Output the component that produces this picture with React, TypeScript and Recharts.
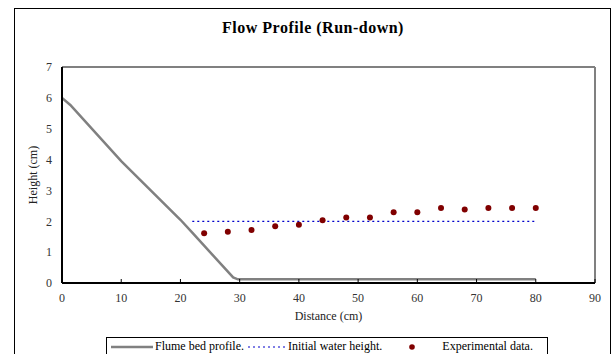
import React from 'react'
import {
  ComposedChart,
  Line,
  Scatter,
  XAxis,
  YAxis,
  ReferenceLine,
} from 'recharts'

// flume bed profile (distance cm, height cm)
const bedX = [0, 1.4, 10, 20, 22, 28.9, 29.7, 80]
const bedH = [6, 5.77, 3.95, 2.05, 1.63, 0.18, 0.12, 0.12]

// initial still-water level
const waterX = [22, 80]
const waterH = [2, 2]

// measured run-down heights
const expX = [24, 28, 32, 36, 40, 44, 48, 52, 56, 60, 64, 68, 72, 76, 80]
const expH = [1.61, 1.66, 1.72, 1.84, 1.89, 2.03, 2.12, 2.12, 2.29, 2.29, 2.43, 2.38, 2.43, 2.43, 2.43]

const xTicks = [0, 10, 20, 30, 40, 50, 60, 70, 80, 90]
const yTicks = [0, 1, 2, 3, 4, 5, 6, 7]

const bed = bedX.map((x, i) => ({ x, h: bedH[i] }))
const water = waterX.map((x, i) => ({ x, h: waterH[i] }))
const exp = expX.map((x, i) => ({ x, h: expH[i] }))

const FONT = '"Liberation Serif", "DejaVu Serif", serif'
const tickStyle = { fontSize: 12, fill: '#333', fontFamily: FONT }

function LegendBox() {
  return (
    <div
      style={{
        position: 'absolute',
        left: 106,
        top: 337,
        display: 'flex',
        alignItems: 'center',
        border: '1px solid #000',
        height: 19,
        width: 442,
        fontFamily: FONT,
        fontSize: 12,
        color: '#000',
        background: '#fff',
        boxSizing: 'border-box',
      }}
    >
      <svg width={44} height={10} style={{ marginLeft: 4 }}>
        <line x1={0} y1={5} x2={42} y2={5} stroke="#808080" strokeWidth={2.5} />
      </svg>
      <span>Flume bed profile.</span>
      <svg width={40} height={10} style={{ marginLeft: 4 }}>
        <line x1={0} y1={5} x2={38} y2={5} stroke="#0000cc" strokeWidth={1.2} strokeDasharray="2 3" />
      </svg>
      <span>Initial water height.</span>
      <svg width={12} height={10} style={{ marginLeft: 24 }}>
        <circle cx={6} cy={5} r={2.8} fill="#800000" />
      </svg>
      <span style={{ marginLeft: 24 }}>Experimental data.</span>
    </div>
  )
}

export default function App() {
  return (
    <div style={{ position: 'absolute', left: 0, top: 0, width: 613, height: 354, background: '#fff', overflow: 'hidden' }}>
      <div
        style={{
          position: 'absolute',
          left: 14,
          top: 8,
          width: 597,
          height: 360,
          border: '1.5px solid #000',
          boxSizing: 'border-box',
        }}
      />
      <div
        style={{
          position: 'absolute',
          left: 0,
          top: 19,
          width: 626,
          textAlign: 'center',
          fontFamily: FONT,
          fontWeight: 'bold',
          fontSize: 16,
          letterSpacing: 0.5,
        }}
      >
        Flow Profile (Run-down)
      </div>
      <div style={{ position: 'absolute', left: 0, top: 0 }}>
        <ComposedChart width={613} height={354} margin={{ top: 67, right: 18, bottom: 41, left: 14 }}>
          <XAxis
            type="number"
            dataKey="x"
            domain={[0, 90]}
            ticks={xTicks}
            allowDataOverflow
            height={30}
            tick={tickStyle}
            tickSize={-4}
            tickMargin={14}
            axisLine={{ stroke: '#000', strokeWidth: 2 }}
            tickLine={{ stroke: '#000' }}
            label={{ value: 'Distance (cm)', position: 'bottom', offset: -2, style: { fontSize: 12, fill: '#222', fontFamily: FONT } }}
          />
          <YAxis
            type="number"
            dataKey="h"
            domain={[0, 7]}
            ticks={yTicks}
            width={48}
            tick={tickStyle}
            tickSize={0}
            tickMargin={10}
            axisLine={{ stroke: '#000', strokeWidth: 2 }}
            tickLine={false}
            label={{
              value: 'Height (cm)',
              angle: -90,
              position: 'insideLeft',
              offset: 19,
              style: { textAnchor: 'middle', fontSize: 12, fill: '#222', fontFamily: FONT },
            }}
          />
          <ReferenceLine y={7} stroke="#808080" strokeWidth={2} />
          <ReferenceLine x={90} stroke="#808080" strokeWidth={2} />
          <Line
            data={bed}
            dataKey="h"
            type="linear"
            stroke="#808080"
            strokeWidth={2.5}
            dot={false}
            isAnimationActive={false}
          />
          <Line
            data={water}
            dataKey="h"
            type="linear"
            stroke="#0000cc"
            strokeWidth={1.2}
            strokeDasharray="2 3"
            dot={false}
            isAnimationActive={false}
          />
          <Scatter data={exp} dataKey="h" fill="#800000" shape={(p: any) => <circle cx={p.cx} cy={p.cy} r={3} fill="#800000" />} isAnimationActive={false} />
        </ComposedChart>
      </div>
      <LegendBox />
    </div>
  )
}
